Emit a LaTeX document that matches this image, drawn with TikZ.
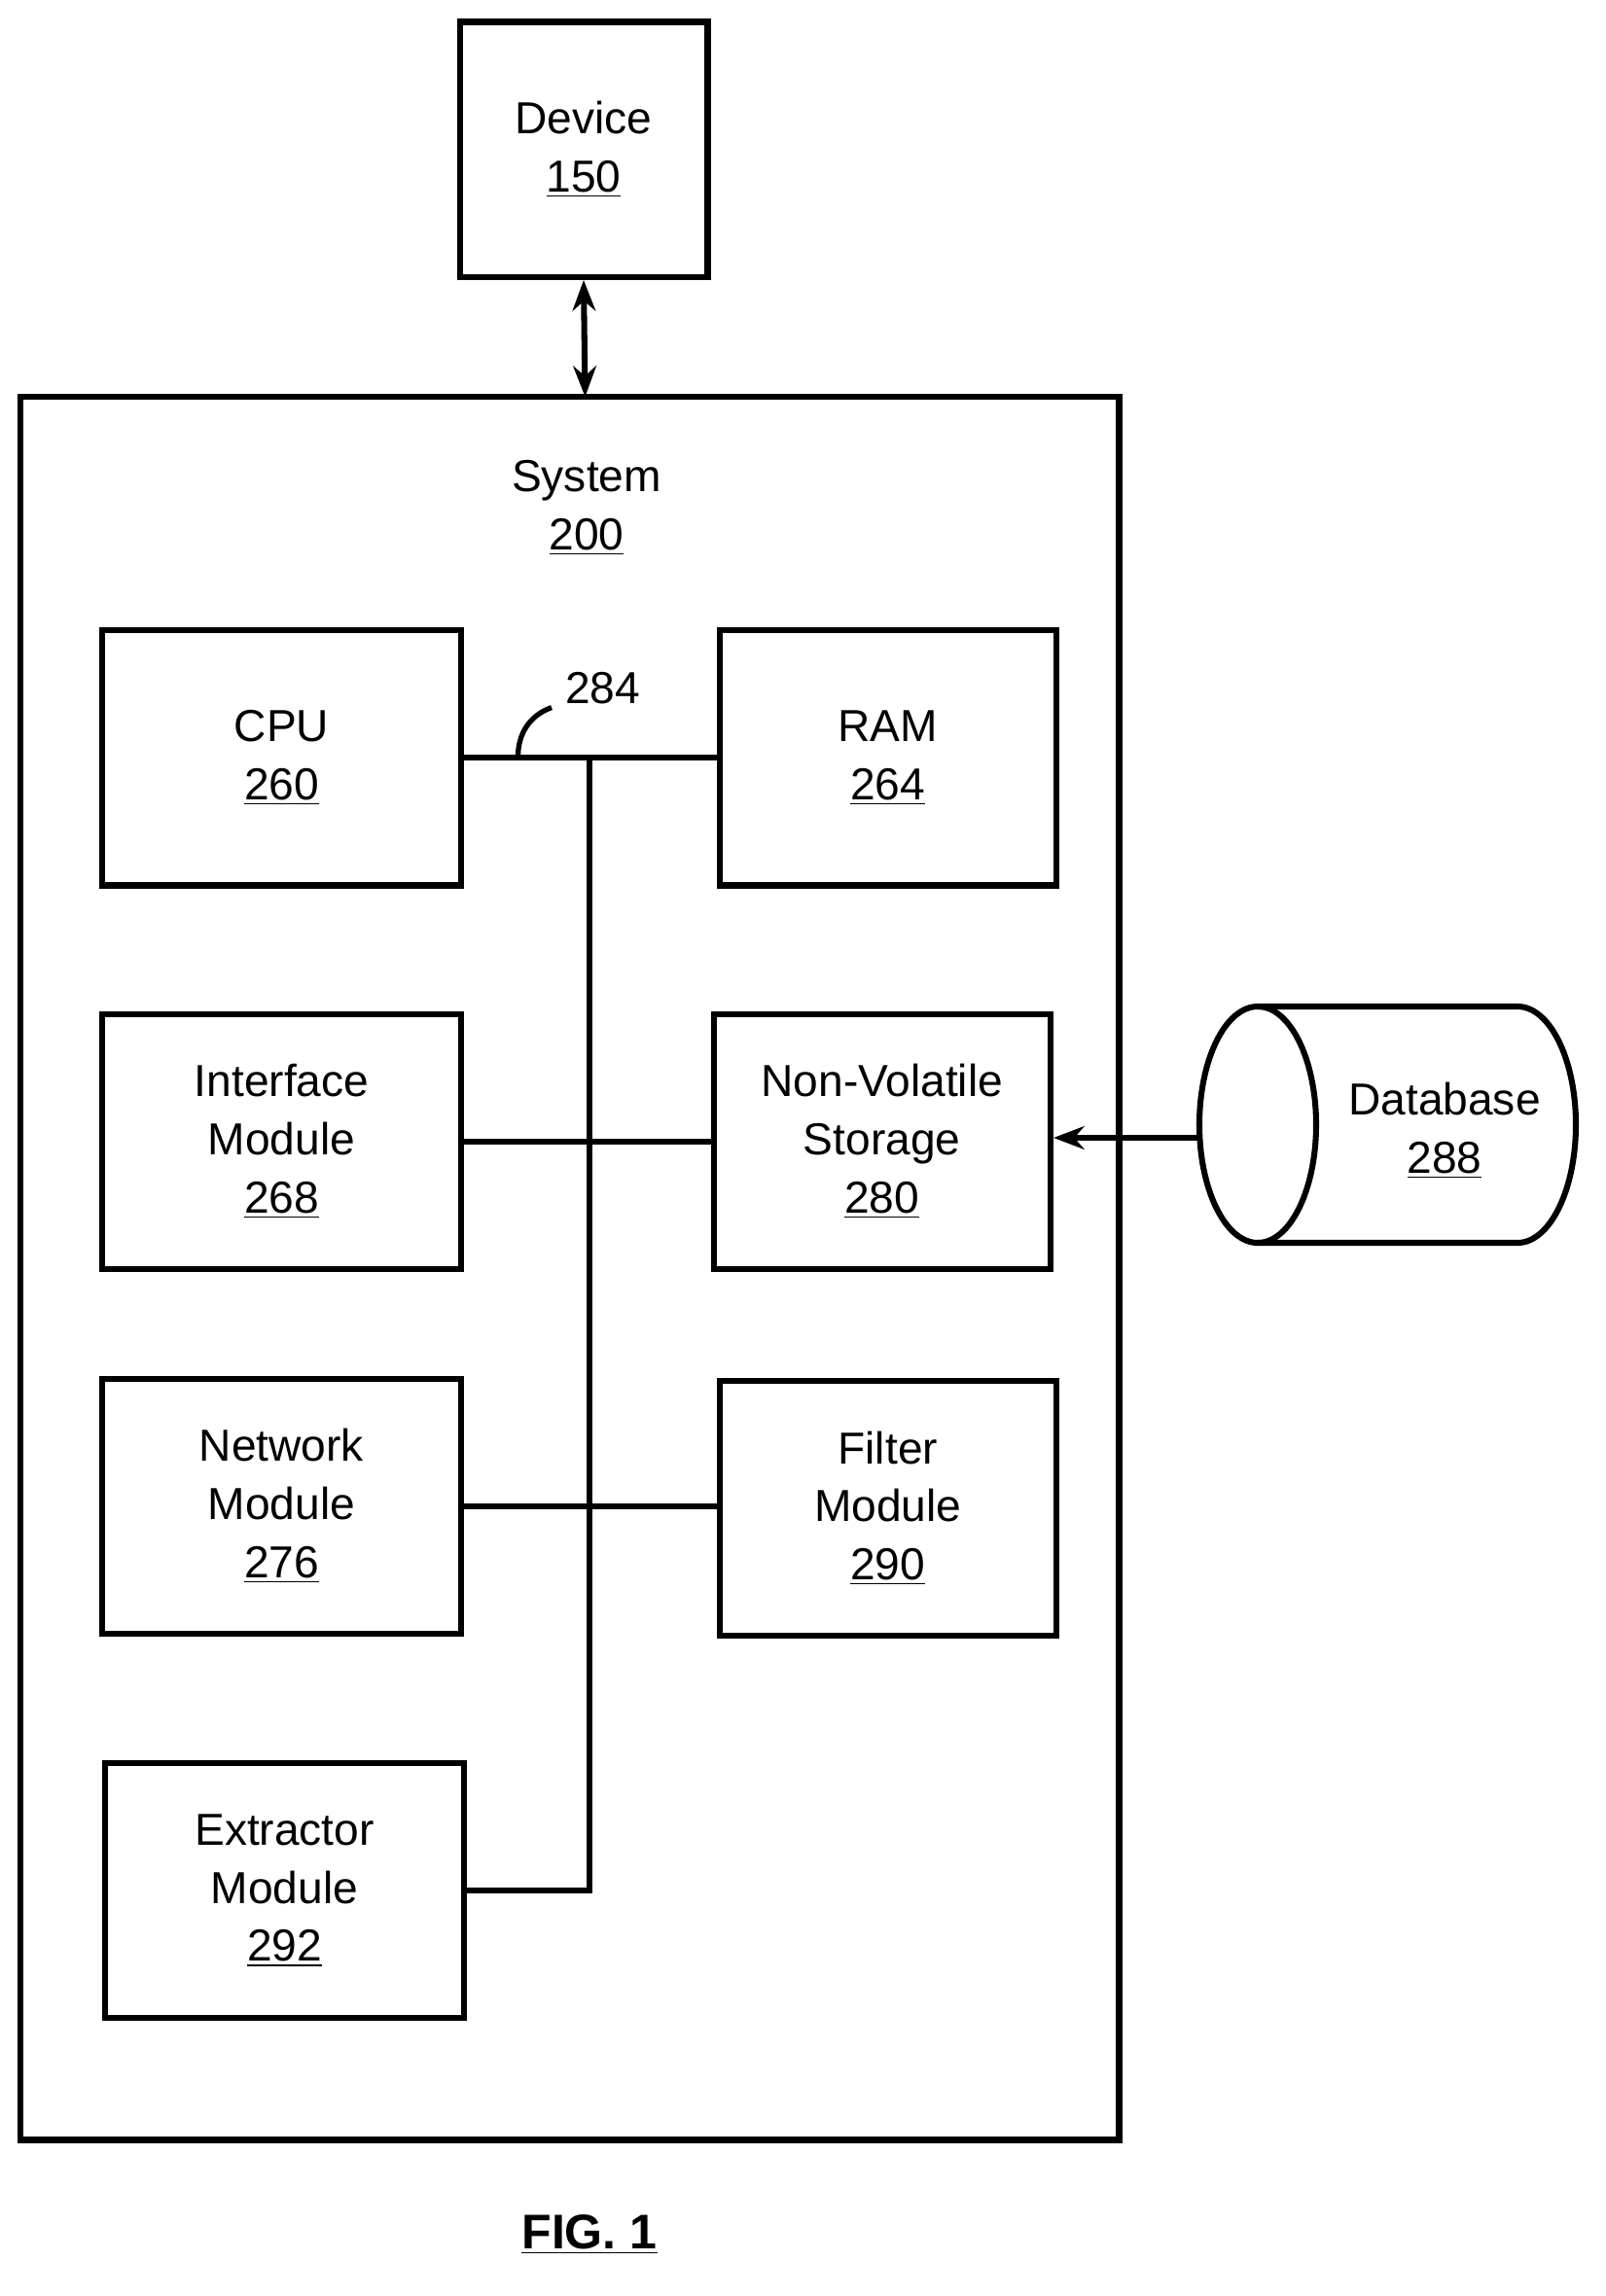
\documentclass[tikz,border=0pt]{standalone}
\usepackage{fontspec}
\setmainfont{Liberation Sans}
\usetikzlibrary{arrows.meta}
\begin{document}
\begin{tikzpicture}[x=0.02cm, y=-0.02cm, line width=2.3pt,
    every node/.style={font=\fontsize{17.5}{22.7}\selectfont, align=center},
    box/.style={draw, minimum width=4.92cm, minimum height=3.5cm, inner sep=0pt}]

    \useasboundingbox (0,0) rectangle (1100,1574);

    % -- Device e System --
    \node[box, minimum width=3.4cm] (dev) at (400,102.5) {Device\\\underline{150}};
    \draw (14,272) rectangle (767,1467);
    \coordinate (systop) at (401,272);
    \node (sys) at (402,348) {System\\\underline{200}};
    \draw[{Stealth[length=12pt,width=9pt]}-{Stealth[length=12pt,width=9pt]}] (dev.south) -- (systop);

    % -- Moduli --
    \node[box] (cpu) at (193,519.5) {CPU\\\underline{260}};
    \node[box, minimum width=4.62cm] (ram) at (608.5,519.5) {RAM\\\underline{264}};
    \node[box] (iface) at (193,782.5) {Interface\\Module\\\underline{268}};
    \node[box, minimum width=4.62cm] (nvs) at (604.5,782.5) {Non-Volatile\\Storage\\\underline{280}};
    \node[box] (net) at (193,1032.5) {Network\\Module\\\underline{276}};
    \node[box, minimum width=4.62cm] (filt) at (608.5,1034) {Filter\\Module\\\underline{290}};
    \node[box] (extr) at (195,1296) {Extractor\\Module\\\underline{292}};

    % -- Bus --
    \coordinate (bustop) at (404,519.5);
    \coordinate (busbot) at (404,1296);
    \draw (cpu.east) -- (ram.west);
    \draw (bustop) -- (busbot) -- (extr.east);
    \draw (iface.east) -- (iface.east -| nvs.west);
    \draw (net.east) -- (net.east -| filt.west);
    \node (bus) at (413,472) {284};
    \draw[line width=2pt] (355,519) to[out=90, in=200] (378,485);

    % -- Database --
    \draw (862,690) -- (1040,690) arc[start angle=90, end angle=-90, x radius=40, y radius=-81] -- (862,852);
    \draw (862,771) ellipse[x radius=40, y radius=81];
    \node (db) at (990,775) {Database\\\underline{288}};
    \coordinate (dbin) at (822,780);
    \draw[-{Stealth[length=12pt,width=9pt]}] (dbin) -- (dbin -| nvs.east);

    \node[font=\bfseries\fontsize{19}{23}\selectfont] (fig) at (404,1532) {\underline{FIG. 1}};
\end{tikzpicture}
\end{document}
